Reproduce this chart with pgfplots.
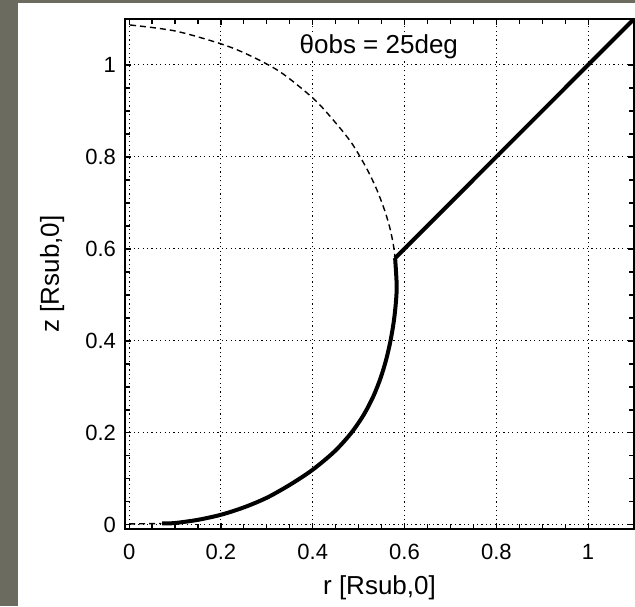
\documentclass[border=0pt]{standalone}
\usepackage{pgfplots}
\pgfplotsset{compat=1.18}
\usepackage{fontspec}
\setmainfont{Liberation Sans}
\definecolor{frame}{RGB}{107,107,95}
\begin{document}
\begin{tikzpicture}
% page background: grey strip left and top, white panel
\fill[frame] (0,0) rectangle (317.5pt,303pt);
\fill[white] (9pt,0) rectangle (317.5pt,301.5pt);
\begin{axis}[
    at={(62.5pt,38.5pt)}, anchor=south west,
    scale only axis, width=254.5pt, height=255pt,
    xmin=-0.009, xmax=1.1, ymin=-0.009, ymax=1.1,
    xtick={0,0.2,...,1}, ytick={0,0.2,...,1},
    minor tick num=3,
    tick align=inside,
    major tick length=3pt, minor tick length=2.5pt,
    every tick/.style={black, line width=0.6pt},
    grid=major,
    major grid style={black, line width=0.5pt, dash pattern=on 0.6pt off 1.6pt},
    axis line style={line width=0.9pt},
    /pgf/number format/assume math mode=true,
    tick label style={font=\fontsize{11}{13}\selectfont},
    xticklabel style={yshift=-4pt},
    yticklabel style={xshift=-1pt},
    label style={font=\fontsize{13}{15}\selectfont},
    xlabel={r [Rsub,0]},
    ylabel={z [Rsub,0]},
    xlabel style={at={(axis description cs:0.5,-0.116)}, anchor=center},
    ylabel style={at={(axis description cs:-0.143,0.5)}, anchor=center},
  ]
% unperturbed surface (dashed)
\addplot[black, line width=0.7pt, dash pattern=on 3pt off 2pt, smooth] coordinates {
  (0.002,1.087) (0.1,1.074) (0.2,1.046) (0.26,1.022) (0.329,0.985)
  (0.4015,0.927) (0.445,0.880) (0.485,0.830) (0.518,0.774)
  (0.540,0.728) (0.558,0.680) (0.569,0.642) (0.576,0.607) (0.5795,0.58)};
\addplot[black, line width=0.7pt, dash pattern=on 3pt off 2pt] coordinates {
  (0.0,0.002) (0.07,0.003)};
% surface seen at theta_obs
\addplot[black, line width=2pt, smooth] coordinates {
  (0.072,0.003) (0.1,0.004) (0.15,0.011) (0.2,0.022) (0.25,0.038)
  (0.3,0.059) (0.35,0.087) (0.400,0.120) (0.4478,0.160) (0.4840,0.200)
  (0.5115,0.240) (0.5323,0.280) (0.5481,0.320) (0.5602,0.360)
  (0.5694,0.400) (0.5763,0.440) (0.5809,0.480) (0.5830,0.520)
  (0.5795,0.58)};
\addplot[black, line width=2pt] coordinates {
  (0.5795,0.58) (1.1,1.1)};
\node[font=\fontsize{13}{15}\selectfont, fill=white, inner sep=1pt] at (axis cs:0.544,1.04) {θobs = 25deg};
\end{axis}
\pgfresetboundingbox
\path[use as bounding box] (0,0) rectangle (317.5pt,303pt);
\end{tikzpicture}
\end{document}
